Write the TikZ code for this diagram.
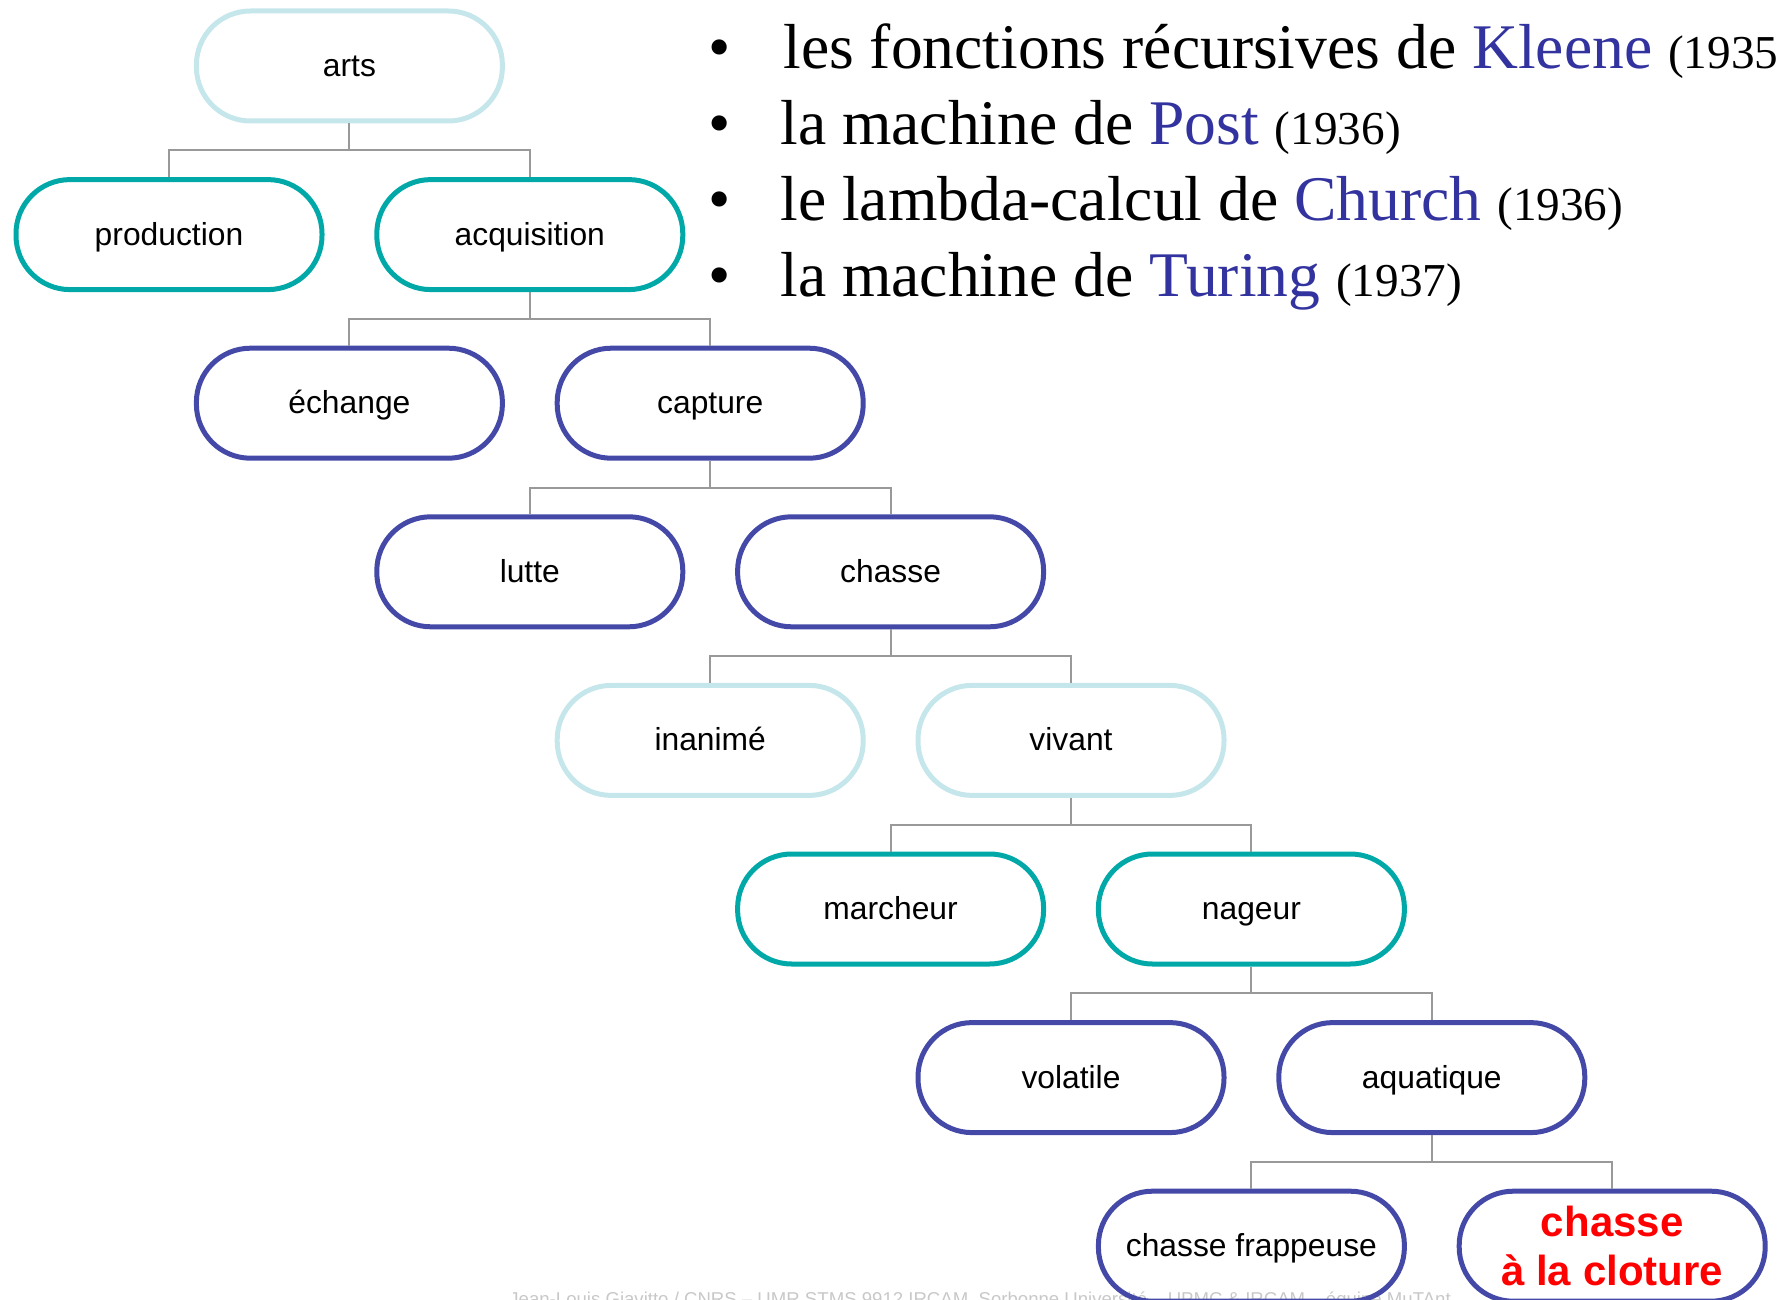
\documentclass[tikz,border=0pt]{standalone}
\usepackage{fontspec}
\setmainfont{Liberation Serif}
\newfontfamily\labelfont{Liberation Sans}
\usetikzlibrary{calc}

\definecolor{paleline}{RGB}{197,230,234}
\definecolor{tealline}{RGB}{0,168,168}
\definecolor{navyline}{RGB}{68,73,168}
\definecolor{namecol}{RGB}{51,51,160}
\definecolor{linkgray}{RGB}{153,153,153}
\definecolor{footgray}{RGB}{200,200,200}
\definecolor{alertred}{RGB}{255,0,0}

\begin{document}
\begin{tikzpicture}[x=0.5pt,y=-0.5pt,
  box/.style={draw, line width=2.5pt, rounded corners=27pt,
    minimum width=153pt, minimum height=55pt, inner sep=0pt,
    font=\labelfont\fontsize{15.9}{19}\selectfont, text=black,
    text height=10.5pt, text depth=0pt},
  paleb/.style={box, draw=paleline},
  tealb/.style={box, draw=tealline},
  navyb/.style={box, draw=navyline},
  link/.style={draw=linkgray, line width=1pt},
  bul/.style={anchor=base, inner sep=0pt, font=\fontsize{31.8}{38}\selectfont},
  item/.style={anchor=base west, inner sep=0pt, font=\fontsize{31.8}{38}\selectfont},
]
\useasboundingbox (0,0) rectangle (1779,1300);
\clip (0,0) rectangle (1779,1300);

% footer line of the slide, partly behind the lowest boxes
\node[anchor=base west, inner sep=0pt, text=footgray,
      font=\labelfont\fontsize{9.3}{11}\selectfont] (footer) at (509,1305.5)
  {Jean-Louis Giavitto / CNRS – UMR STMS 9912 IRCAM, Sorbonne Université – UPMC \& IRCAM – équipe MuTAnt};

% list of computation models
\node[bul] (b1) at (720,69) {•};
\node[bul] (b2) at (720,145) {•};
\node[bul] (b3) at (720,221) {•};
\node[bul] (b4) at (720,297) {•};
\node[item] (t1) at (783,69) {les fonctions récursives de \textcolor{namecol}{Kleene} {\fontsize{23.6}{28}\selectfont(1935)}};
\node[item] (t2) at (780,145) {la machine de \textcolor{namecol}{Post} {\fontsize{23.6}{28}\selectfont(1936)}};
\node[item] (t3) at (780,221) {le lambda-calcul de \textcolor{namecol}{Church} {\fontsize{23.6}{28}\selectfont(1936)}};
\node[item] (t4) at (780,297) {la machine de \textcolor{namecol}{Turing} {\fontsize{23.6}{28}\selectfont(1937)}};

% classification tree
\node[paleb] (arts)  at (349.4,66)    {arts};
\node[tealb] (prod)  at (169,234.6)   {production};
\node[tealb] (acq)   at (529.8,234.6) {acquisition};
\node[navyb] (ech)   at (349.4,403.2) {échange};
\node[navyb] (cap)   at (710.2,403.2) {capture};
\node[navyb] (lut)   at (529.8,571.8) {lutte};
\node[navyb] (cha)   at (890.6,571.8) {chasse};
\node[paleb] (ina)   at (710.2,740.4) {inanimé};
\node[paleb] (viv)   at (1071,740.4)  {vivant};
\node[tealb] (mar)   at (890.6,909)   {marcheur};
\node[tealb] (nag)   at (1251.4,909)  {nageur};
\node[navyb] (vol)   at (1071,1077.6) {volatile};
\node[navyb] (aqu)   at (1431.8,1077.6) {aquatique};
\node[navyb] (fra)   at (1251.4,1246.2) {chasse frappeuse};
\node[navyb, align=center, text=alertred, text height=, text depth=,
      font=\labelfont\bfseries\fontsize{21}{24.5}\selectfont]
      (clo) at (1612.2,1246.2) {chasse\\à la cloture};

% elbow connectors from each parent to its two children
\foreach \p/\c in {arts/prod, arts/acq, acq/ech, acq/cap, cap/lut, cap/cha,
                   cha/ina, cha/viv, viv/mar, viv/nag, nag/vol, nag/aqu,
                   aqu/fra, aqu/clo}
  \draw[link] (\p.south) |- ($(\p)!0.5!(\c)$) -| (\c.north);
\end{tikzpicture}
\end{document}
